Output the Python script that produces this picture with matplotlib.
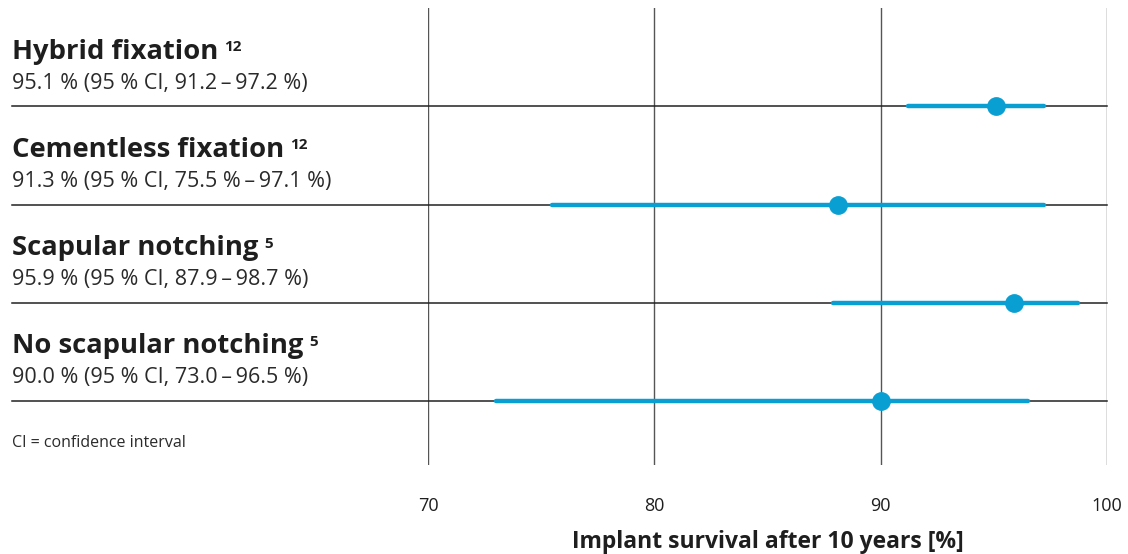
import matplotlib.pyplot as plt
from matplotlib.transforms import blended_transform_factory

plt.rcParams['font.family'] = ['Open Sans', 'DejaVu Sans']

# data
groups = ['Hybrid fixation', 'Cementless fixation', 'Scapular notching', 'No scapular notching']
refs = ['12', '12', '5', '5']
summaries = [
    '95.1 % (95 % CI, 91.2\u2009\u2013\u200997.2 %)',
    '91.3 % (95 % CI, 75.5 %\u2009\u2013\u200997.1 %)',
    '95.9 % (95 % CI, 87.9\u2009\u2013\u200998.7 %)',
    '90.0 % (95 % CI, 73.0\u2009\u2013\u200996.5 %)',
]
survival = [95.1, 88.1, 95.9, 90.0]
ci_low = [91.2, 75.5, 87.9, 73.0]
ci_high = [97.2, 97.2, 98.7, 96.5]
ticks = [70, 80, 90, 100]

blue = '#0a9fd3'
text_col = '#1e1e1e'

fig = plt.figure(figsize=(11.28, 5.54), dpi=100)
ax = fig.add_axes([428 / 1128, 1 - 465 / 554, 679 / 1128, 457 / 554])
ax.set_xlim(70, 100)
ax.set_ylim(3.65, -1.0)

for t in ticks:
    ax.axvline(t, color='#555555', lw=1.0, zorder=1)

rows = range(len(groups))
for i in rows:
    ax.axhline(i, xmin=(12 - 428) / 679, xmax=1, color='#222222', lw=1.1,
               clip_on=False, zorder=2)
    ax.plot([ci_low[i], ci_high[i]], [i, i], color=blue, lw=3.2,
            solid_capstyle='round', zorder=3)
    ax.plot(survival[i], i, 'o', color=blue, ms=12.5, zorder=4)

trans = blended_transform_factory(fig.transFigure, ax.transData)
x0 = 12 / 1128
for i in rows:
    t = ax.text(x0, i - 0.485, groups[i], transform=trans, fontsize=19.7,
                fontweight='bold', color=text_col, va='baseline', ha='left')
    ax.annotate(refs[i], xy=(1, 1), xycoords=t, xytext=(4, -1),
                textcoords='offset points', fontsize=11, fontweight='bold',
                color=text_col, va='top', ha='left')
    ax.text(x0, i - 0.18, summaries[i], transform=trans, fontsize=15.5,
            color='#2a2a2a', va='baseline', ha='left')

ax.text(x0, 3.47, 'CI = confidence interval', transform=trans, fontsize=11.5,
        color='#2a2a2a', va='baseline', ha='left')

ax.set_xticks(ticks)
ax.set_xticklabels([str(t) for t in ticks])
ax.set_yticks([])
ax.tick_params(axis='x', length=0, pad=23, labelsize=13, labelcolor=text_col)
ax.set_xlabel('Implant survival after 10 years [%]', fontsize=16.5,
              fontweight='bold', color=text_col, labelpad=11)
for s in ax.spines.values():
    s.set_visible(False)

fig.savefig('out.png', dpi=100)
